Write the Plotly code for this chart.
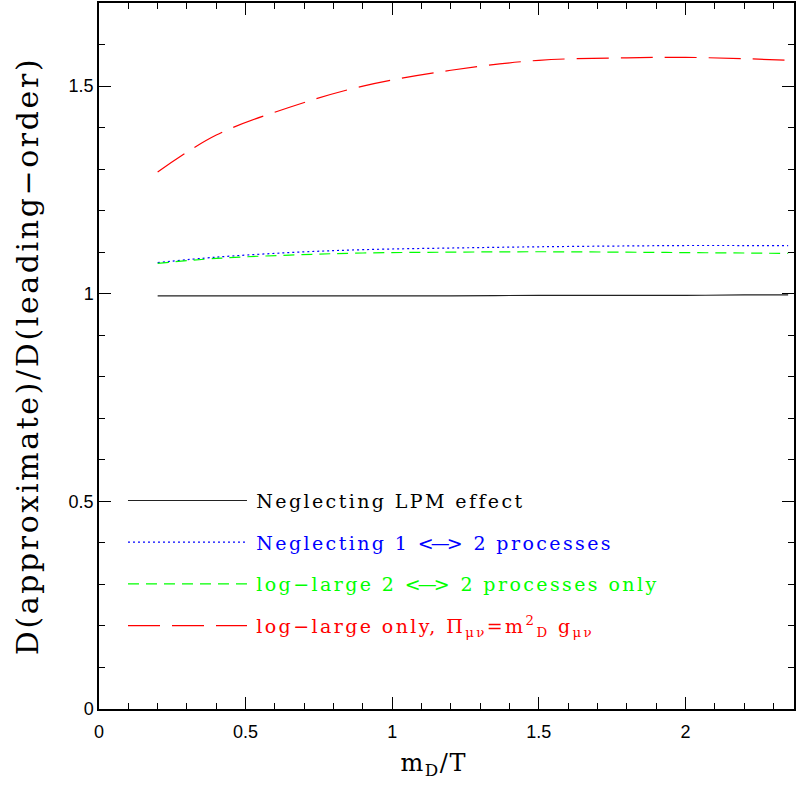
import plotly.graph_objects as go

# m_D/T sample points
x_vals = [0.2, 0.4, 0.65, 0.9, 1.2, 1.5, 1.8, 2.0, 2.2, 2.35]
no_lpm = [0.995, 0.995, 0.995, 0.995, 0.995, 0.996, 0.996, 0.996, 0.997, 0.997]
no_1to2 = [1.075, 1.088, 1.099, 1.106, 1.110, 1.113, 1.115, 1.116, 1.116, 1.116]
loglarge_2to2 = [1.073, 1.085, 1.093, 1.098, 1.100, 1.101, 1.100, 1.099, 1.098, 1.097]
loglarge_only = [1.293, 1.382, 1.449, 1.500, 1.538, 1.562, 1.568, 1.569, 1.566, 1.562]

x_ticks = [0, 0.5, 1, 1.5, 2]
x_ticklabels = ["0", "0.5", "1", "1.5", "2"]
y_ticks = [0, 0.5, 1, 1.5]
y_ticklabels = ["0", "0.5", "1", "1.5"]

ARROW = '<span style="letter-spacing:-3px">&lt;&#8212;</span>&gt;'
def lab(txt, color):
    return f'<span style="color:{color};letter-spacing:2.4px">&#8202;{txt}</span>'

names = [
    lab("Neglecting LPM effect", "#000000"),
    lab(f"Neglecting 1 {ARROW} 2 processes", "#0000ff"),
    lab(f"log&#8722;large 2 {ARROW} 2 processes only", "#00ff00"),
    lab("log&#8722;large only, &#928;<sub>&#956;&#957;</sub>=m<sup>2</sup><sub>D</sub> g<sub>&#956;&#957;</sub>", "#ff0000"),
]
series = [no_lpm, no_1to2, loglarge_2to2, loglarge_only]
colors = ["#222222", "#0000ff", "#00ff00", "#ff0000"]
dashes = ["solid", "2px,3px", "11px,7px", "32px,12px"]

fig = go.Figure()
for i, (ys, nm, c, d) in enumerate(zip(series, names, colors, dashes)):
    fig.add_trace(go.Scatter(
        x=x_vals, y=ys, mode="lines", name=nm,
        line=dict(color=c, width=1.2, dash=d, shape="spline", smoothing=1.0),
        legendgroup=f"g{i}",
    ))

axis_common = dict(
    showline=True, linecolor="black", linewidth=1.5, mirror="allticks",
    ticks="inside", ticklen=12, tickwidth=1, tickcolor="black",
    showgrid=False, zeroline=False,
    tickfont=dict(family="Liberation Sans", size=18, color="black"),
    minor=dict(dtick=0.1, ticks="inside", ticklen=6, tickwidth=1, tickcolor="black", showgrid=False),
)

fig.update_xaxes(
    range=[0, 2.37], tickvals=x_ticks, ticktext=x_ticklabels,
    ticklabelstandoff=6,
    title=dict(text='<span style="letter-spacing:1.5px">m<sub>D</sub>/T&#8195;</span>',
               font=dict(family="DejaVu Serif", size=24, color="black"), standoff=13),
    **axis_common,
)
fig.update_yaxes(
    range=[0, 1.7], tickvals=y_ticks, ticktext=y_ticklabels,
    title=dict(text='<span style="letter-spacing:2.6px">D(approximate)/D(leading&#8722;order)</span>',
               font=dict(family="DejaVu Serif", size=30, color="black"), standoff=21),
    **axis_common,
)

fig.update_layout(
    width=797, height=792,
    margin=dict(l=99, r=1, t=3, b=83),
    plot_bgcolor="white", paper_bgcolor="white",
    showlegend=True,
    legend=dict(
        x=0.0345, y=0.322, xanchor="left", yanchor="top",
        bgcolor="rgba(0,0,0,0)", borderwidth=0,
        font=dict(family="DejaVu Serif", size=19, color="black"),
        itemwidth=119, tracegroupgap=14,
    ),
)

fig.write_html("out.html", config={"displayModeBar": False},
               post_script="document.body.style.margin='0';")
